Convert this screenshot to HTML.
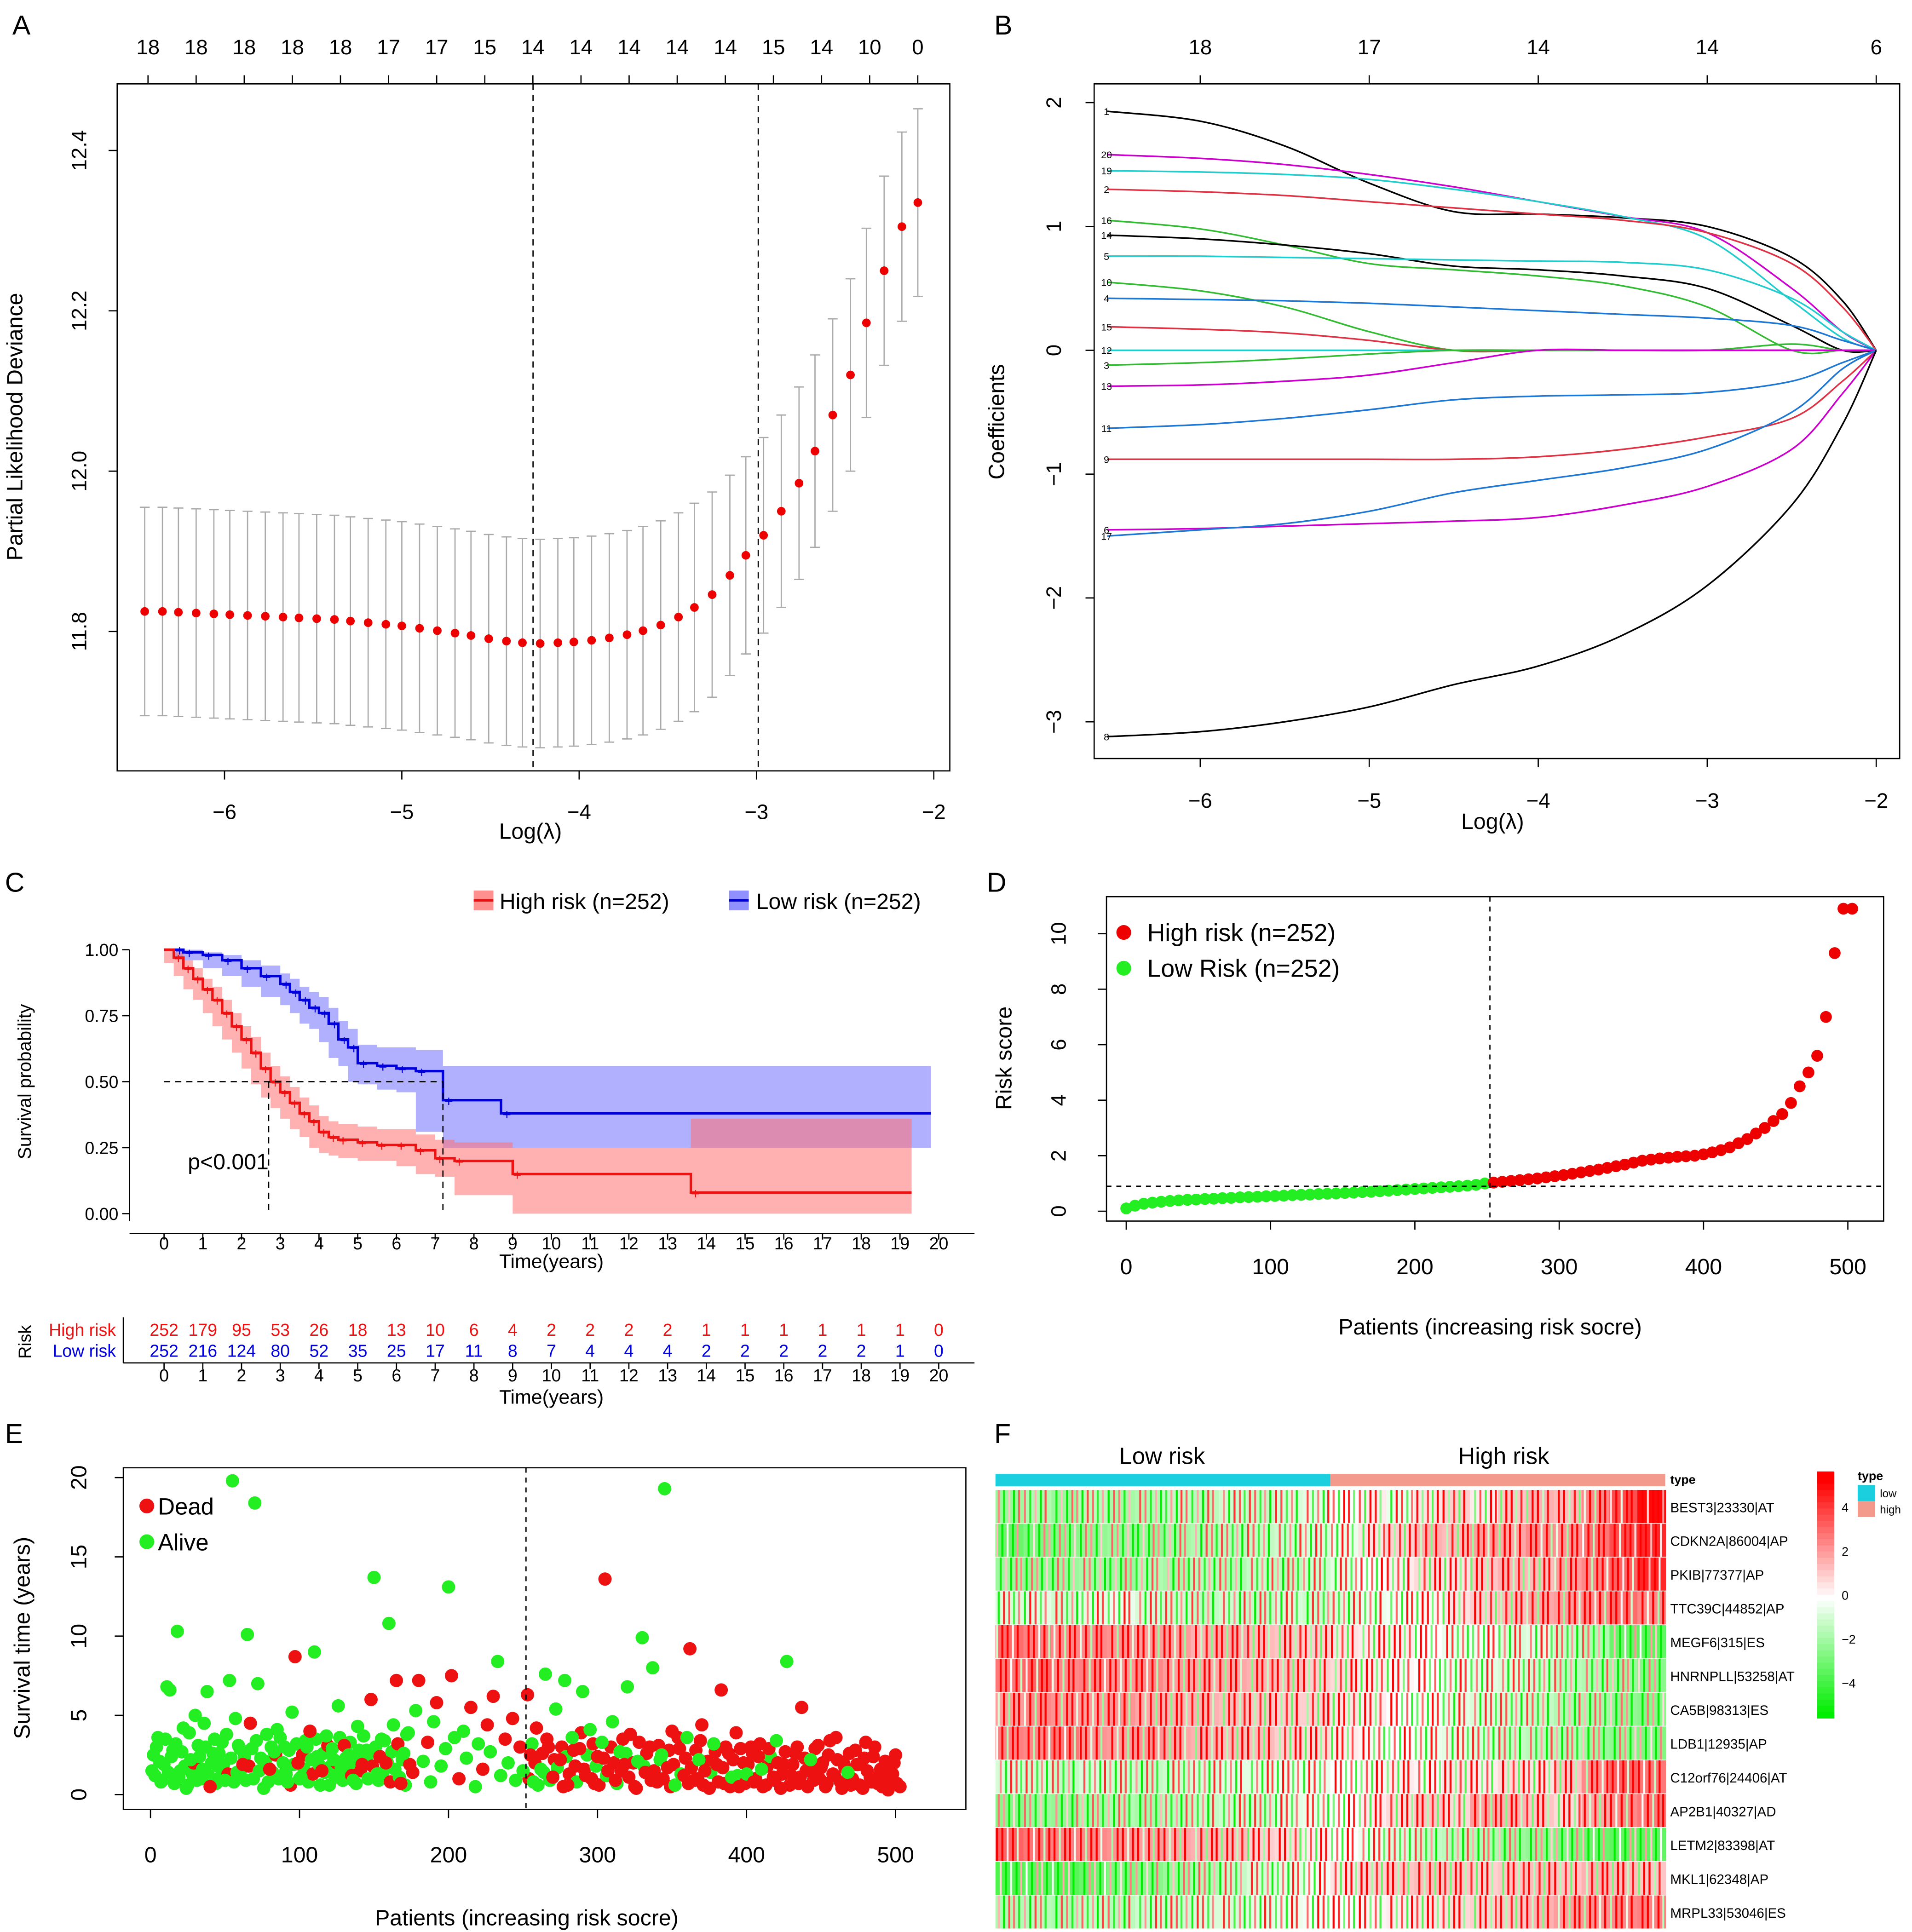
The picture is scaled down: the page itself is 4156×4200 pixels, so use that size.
<!DOCTYPE html>
<html><head><meta charset="utf-8"><style>
html,body{margin:0;padding:0;background:#fff}
svg{display:block;font-family:"Liberation Sans",Arial,sans-serif}
</style></head><body>
<svg id="fig" xmlns="http://www.w3.org/2000/svg" width="4156" height="4200" viewBox="0 0 1550 1566.4"></svg>
<script>
// ---------- Panel A data ----------
const aLambda=[-6.45,-6.35,-6.26,-6.16,-6.06,-5.97,-5.87,-5.77,-5.67,-5.58,-5.48,-5.38,-5.29,-5.19,-5.09,-5.00,-4.90,-4.80,-4.70,-4.61,-4.51,-4.41,-4.32,-4.22,-4.12,-4.03,-3.93,-3.83,-3.73,-3.64,-3.54,-3.44,-3.35,-3.25,-3.15,-3.06,-2.96,-2.86,-2.76,-2.67,-2.57,-2.47,-2.38,-2.28,-2.18,-2.09];
const aDev=[11.825,11.825,11.824,11.823,11.822,11.821,11.82,11.819,11.818,11.817,11.816,11.815,11.813,11.811,11.809,11.807,11.804,11.801,11.798,11.795,11.791,11.788,11.786,11.785,11.786,11.787,11.789,11.792,11.796,11.801,11.808,11.818,11.83,11.846,11.87,11.895,11.92,11.95,11.985,12.025,12.07,12.12,12.185,12.25,12.305,12.335];
const aSE=[0.13,0.13,0.13,0.13,0.13,0.13,0.13,0.13,0.13,0.13,0.13,0.13,0.13,0.13,0.13,0.13,0.13,0.13,0.13,0.13,0.13,0.13,0.13,0.13,0.13,0.13,0.13,0.13,0.13,0.13,0.13,0.13,0.13,0.128,0.125,0.123,0.122,0.12,0.12,0.12,0.12,0.12,0.118,0.118,0.118,0.117];
const aTopLabels=["18","18","18","18","18","17","17","15","14","14","14","14","14","15","14","10","0"];
const aXTicks=[-6,-5,-4,-3,-2];
const aYTicks=[11.8,12.0,12.2,12.4];
const aVLines=[-4.26,-2.99];
// ---------- Panel B data ----------
const bLambda=[-6.55,-6,-5.5,-5,-4.5,-4,-3.5,-3,-2.5,-2.2,-2];
const bLabels=["1","20","19","2","16","14","5","10","4","15","12","3","13","11","9","6","17","8"];
const bColors=["#000","#cc00cc","#22cccc","#dd3344","#33bb33","#000","#22cccc","#33bb33","#1f77d4","#dd3344","#22cccc","#33bb33","#cc00cc","#1f77d4","#dd3344","#cc00cc","#1f77d4","#000"];
const bC1=[1.93,1.85,1.65,1.35,1.12,1.1,1.07,1.0,0.75,0.4,0];
const bC20=[1.58,1.55,1.5,1.42,1.32,1.2,1.08,0.95,0.5,0.15,0];
const bC19=[1.45,1.44,1.42,1.38,1.3,1.2,1.08,0.9,0.4,0.1,0];
const bC2=[1.3,1.28,1.25,1.2,1.15,1.1,1.05,0.95,0.7,0.35,0];
const bC16=[1.05,0.98,0.85,0.7,0.65,0.6,0.52,0.35,0,0,0];
const bC14=[0.93,0.9,0.85,0.78,0.68,0.65,0.6,0.5,0.2,0,0];
const bC5=[0.76,0.76,0.75,0.74,0.73,0.72,0.71,0.65,0.42,0.15,0];
const bC10=[0.55,0.48,0.35,0.15,0,0,0,0,0,0,0];
const bC4=[0.42,0.41,0.4,0.38,0.35,0.32,0.29,0.26,0.2,0.08,0];
const bC15=[0.19,0.17,0.14,0.08,0,0,0,0,0,0,0];
const bC12=[0,0,0,0,0,0,0,0,0,0,0];
const bC3=[-0.12,-0.1,-0.07,-0.03,0,0,0,0,0.05,0,0];
const bC13=[-0.29,-0.28,-0.25,-0.2,-0.1,0,0,0,0,0,0];
const bC11=[-0.63,-0.6,-0.55,-0.48,-0.4,-0.37,-0.36,-0.34,-0.25,-0.1,0];
const bC9=[-0.88,-0.88,-0.88,-0.88,-0.88,-0.86,-0.8,-0.7,-0.55,-0.25,0];
const bC6=[-1.45,-1.44,-1.42,-1.4,-1.38,-1.35,-1.25,-1.1,-0.8,-0.35,0];
const bC17=[-1.5,-1.45,-1.4,-1.3,-1.15,-1.05,-0.95,-0.8,-0.5,-0.15,0];
const bC8=[-3.12,-3.08,-3.0,-2.88,-2.7,-2.55,-2.3,-1.9,-1.25,-0.6,0];
const bSeries=[bC1,bC20,bC19,bC2,bC16,bC14,bC5,bC10,bC4,bC15,bC12,bC3,bC13,bC11,bC9,bC6,bC17,bC8];
const bTopLabels=["18","17","14","14","6"];
const bXTicks=[-6,-5,-4,-3,-2];
const bYTicks=[2,1,0,-1,-2,-3];
// ---------- Panel C data ----------
const cHighT=[0,0.25,0.5,0.75,1,1.25,1.5,1.75,2,2.25,2.5,2.75,3,3.25,3.5,3.75,4,4.25,4.5,5,5.5,6,6.5,7,7.5,9,13.6,19.3];
const cHighS=[1,0.97,0.93,0.89,0.85,0.81,0.76,0.71,0.66,0.61,0.55,0.5,0.46,0.42,0.38,0.35,0.31,0.29,0.28,0.27,0.26,0.26,0.24,0.21,0.2,0.15,0.08,0.08];
const cHighU=[1,0.99,0.96,0.93,0.89,0.86,0.81,0.76,0.71,0.67,0.61,0.56,0.52,0.48,0.44,0.41,0.37,0.35,0.34,0.33,0.32,0.32,0.3,0.28,0.27,0.25,0.36,0.36];
const cHighL=[1,0.95,0.9,0.85,0.81,0.76,0.71,0.66,0.61,0.55,0.49,0.44,0.4,0.36,0.32,0.29,0.25,0.23,0.22,0.21,0.2,0.2,0.18,0.15,0.14,0.07,0.0,0.0];
const cLowT=[0,0.25,0.5,1,1.5,2,2.5,3,3.25,3.5,3.75,4,4.25,4.5,4.75,5,5.5,6,6.5,7.2,8.7,19.8];
const cLowS=[1,1,0.99,0.98,0.96,0.93,0.9,0.87,0.84,0.81,0.78,0.76,0.72,0.66,0.63,0.57,0.56,0.55,0.54,0.43,0.38,0.38];
const cLowU=[1,1,1,0.99,0.98,0.96,0.94,0.91,0.89,0.86,0.84,0.82,0.78,0.73,0.7,0.64,0.63,0.63,0.62,0.56,0.56,0.56];
const cLowL=[1,1,0.97,0.96,0.93,0.9,0.86,0.82,0.79,0.76,0.72,0.7,0.65,0.59,0.56,0.5,0.49,0.47,0.46,0.31,0.25,0.25];
const cHighRisk=[252,179,95,53,26,18,13,10,6,4,2,2,2,2,1,1,1,1,1,1,0];
const cLowRisk=[252,216,124,80,52,35,25,17,11,8,7,4,4,4,2,2,2,2,2,1,0];
const cYTicks=[0,0.25,0.5,0.75,1];
const cMedians=[2.7,7.2];
// ---------- Panel D data (sampled along sorted patients) ----------
const dRisk=[0.1,0.2,0.27,0.31,0.34,0.37,0.39,0.41,0.42,0.44,0.45,0.47,0.48,0.5,0.51,0.52,0.54,0.55,0.56,0.58,0.59,0.6,0.62,0.63,0.64,0.66,0.67,0.69,0.7,0.72,0.74,0.76,0.78,0.8,0.82,0.84,0.86,0.88,0.9,0.92,0.95,1.0,1.03,1.06,1.09,1.12,1.15,1.18,1.22,1.26,1.3,1.35,1.4,1.45,1.5,1.56,1.62,1.68,1.75,1.82,1.86,1.9,1.93,1.96,1.98,2.0,2.05,2.12,2.2,2.3,2.45,2.6,2.8,3.0,3.25,3.5,3.9,4.5,5.0,5.6,7.0,9.3,10.9,10.9];
const dYTicks=[0,2,4,6,8,10];
const dXTicks=[0,100,200,300,400,500];
const dCut=0.9;
const dTotal=503;
// ---------- Panel E data ----------
const ePatient=[2,3,5,7,9,11,13,15,18,20,22,25,27,30,32,34,36,38,40,42,45,48,50,53,55,57,58,60,62,65,67,70,72,74,76,78,80,83,85,88,90,92,95,97,99,101,104,107,110,112,115,118,120,123,126,128,130,133,136,139,142,145,148,150,152,155,158,160,163,165,168,170,173,176,178,180,183,186,188,190,192,195,198,200,202,204,207,210,212,215,218,220,223,226,228,230,233,235,238,240,243,245,248,250,253,255,257,259,262,265,267,270,272,275,278,280,283,285,288,290,292,295,298,300,303,305,307,310,312,315,318,320,322,325,327,330,332,335,337,340,343,345,347,350,352,355,358,360,362,365,368,370,372,375,378,380,383,385,388,390,393,395,398,400,403,405,408,410,413,415,418,420,423,425,427,430,433,435,437,440,443,445,448,450,453,455,458,460,463,465,468,470,473,475,478,480,483,485,488,490,493,495,498,500,503];
const eTime=[2.5,1.2,3.6,0.8,1.9,6.8,6.6,2.8,10.3,1.5,4.2,0.6,2.2,5.0,3.1,1.0,4.5,6.5,0.5,2.6,1.8,3.3,0.9,7.2,19.8,4.8,1.4,2.9,1.9,10.1,4.5,18.4,7.0,2.3,0.4,3.8,1.6,2.7,4.1,1.2,3.0,0.8,5.2,8.7,2.0,1.1,3.4,4.0,9.0,2.4,1.5,3.7,0.6,2.2,5.6,1.7,3.1,2.5,0.9,4.3,1.9,2.8,6.0,13.7,1.3,3.5,2.0,10.8,4.4,7.2,0.7,2.6,3.9,1.4,5.3,7.2,2.1,3.3,0.8,4.6,5.8,1.8,2.9,13.1,7.5,3.6,1.0,4.0,2.3,5.5,0.5,3.2,1.6,4.4,2.7,6.2,8.4,1.2,3.5,2.0,4.8,0.9,3.0,1.5,6.3,2.5,0.8,4.2,1.6,7.6,3.0,1.1,5.4,2.2,7.2,0.6,3.6,1.8,2.9,6.5,1.2,4.1,0.7,2.4,3.3,13.6,1.5,4.6,0.9,2.7,1.9,6.8,3.8,0.5,2.1,9.9,1.4,3.0,8.0,0.8,2.5,19.3,1.7,4.0,0.6,2.9,1.2,3.6,9.2,0.9,2.2,4.4,1.5,0.4,3.2,1.9,6.6,0.7,2.6,1.1,3.9,0.5,2.0,1.3,3.0,0.8,2.4,1.6,0.6,2.9,1.1,3.4,0.4,1.9,8.4,1.2,2.6,0.7,5.5,1.5,2.2,0.9,3.1,1.7,0.5,2.5,1.3,3.6,0.8,2.0,1.4,0.6,2.8,1.9,0.4,3.3,1.1,2.4,0.7,1.6,2.1,0.3,1.3,2.5,0.5];
const eDead=[0,0,0,0,0,0,0,0,0,0,0,0,0,0,0,0,0,0,1,0,0,0,0,0,0,0,0,0,1,0,1,0,0,0,0,0,1,0,0,0,0,0,0,1,1,0,0,1,0,0,1,0,0,0,0,0,1,0,0,0,1,0,1,0,0,0,1,0,0,1,1,0,0,1,0,1,0,1,0,0,1,0,0,0,1,0,1,0,0,1,0,0,1,1,0,1,0,0,1,0,1,0,1,0,1,1,0,1,0,0,1,1,0,1,0,1,0,1,1,0,1,0,1,1,0,1,1,0,1,0,1,0,1,1,0,0,1,1,0,1,0,0,1,1,0,1,1,0,1,1,0,1,1,1,0,1,1,1,1,0,1,1,1,0,1,1,1,0,1,1,1,0,1,1,0,1,1,1,1,1,0,1,1,1,1,1,1,1,1,1,0,1,1,1,1,1,1,1,1,1,1,1,1,1,1];
const ePatientB=[1,4,6,8,10,12,14,16,17,19,21,23,24,26,28,29,31,33,35,37,39,41,43,44,46,47,49,51,52,54,56,59,61,63,64,66,68,69,71,73,77,79,81,82,84,86,87,89,91,93,94,96,98,100,102,103,105,106,108,109,111,113,114,116,117,119,121,122,124,125,127,129,131,132,134,135,137,138,140,141,143,144,146,147,149,151,153,154,156,157,159,161,162,164,166,167,169,171,172,174,254,256,258,260,263,264,266,268,271,273,276,277,279,281,284,286,289,291,293,296,297,299,301,304,306,309,311,313,316,317,319,321,324,326,328,331,333,336,338,341,342,344,348,349,351,354,356,359,361,363,366,367,369,371,374,376,379,381,384,386,389,391,394,396,399,401,404,406,409,411,414,416,419,421,424,426,429,431,434,436,439,441,444,446,449,451,454,456,459,461,464,466,469,471,474,476,479,481,484,486,489,491,494,496,499,501];
const eTimeB=[1.5,3.0,2.1,0.9,3.5,1.4,2.4,0.7,3.2,1.1,2.7,1.8,0.4,3.9,1.3,2.0,0.9,2.4,1.6,3.0,1.2,2.0,3.5,0.7,2.6,1.1,1.9,3.8,1.3,2.3,0.8,3.1,1.6,2.4,0.9,1.8,2.9,1.0,3.4,1.5,2.1,0.8,3.0,1.4,2.5,1.0,3.6,2.0,1.3,2.8,0.6,1.9,3.2,1.0,2.5,1.6,3.0,0.8,2.2,1.3,3.5,1.9,0.6,2.6,1.4,3.1,1.8,2.9,1.1,2.0,3.6,0.9,2.3,1.6,3.3,1.2,2.1,0.7,2.8,1.5,3.7,2.2,1.0,2.6,1.8,3.0,0.9,2.4,1.4,3.4,2.0,0.8,2.7,1.6,3.2,1.1,2.2,0.6,3.8,1.9,1.0,3.2,2.0,0.6,2.6,1.4,3.5,0.9,2.2,1.7,3.0,0.5,2.4,1.3,2.8,0.8,3.9,1.6,2.5,1.0,3.2,1.8,0.6,2.3,1.2,3.0,2.0,0.7,1.5,3.5,2.6,1.1,2.0,0.4,3.3,1.8,2.6,0.9,1.5,3.1,2.2,1.0,2.8,0.5,1.9,3.6,1.3,2.3,0.7,1.7,2.8,1.0,3.4,0.6,2.1,1.4,2.7,0.8,1.7,3.0,0.5,2.2,1.2,2.9,0.7,1.9,2.6,1.0,3.2,0.5,1.8,2.4,0.9,2.0,1.3,2.7,0.6,1.9,3.0,1.1,2.3,0.5,1.6,2.9,1.0,2.0,0.7,3.4,1.2,2.2,0.4,1.7,2.6,1.0,1.9,0.6,2.3,1.5,0.8,3.0,1.2,0.5,1.8,1.0,2.0,0.7];
const eDeadB=[0,0,0,0,0,0,0,0,0,0,0,0,0,0,0,1,0,0,0,0,0,0,0,0,0,0,0,0,1,0,0,0,0,0,0,1,0,0,0,0,0,0,0,0,1,0,0,0,0,0,1,0,0,0,1,0,0,0,0,1,0,0,0,0,0,1,0,0,0,1,0,0,0,0,0,1,0,0,0,1,0,0,0,0,1,0,0,1,0,0,0,1,0,0,1,0,0,0,0,1,1,0,1,0,1,0,1,0,1,0,1,1,0,1,1,0,1,1,0,1,1,0,1,1,0,1,1,0,1,1,0,1,1,1,1,0,1,1,1,1,0,1,1,1,1,1,0,1,1,1,1,1,1,1,1,0,1,1,1,1,1,1,0,1,1,1,1,1,1,1,1,0,1,1,1,1,1,1,1,1,1,1,1,1,1,1,1,1,1,1,1,1,1,1,1,1,1,1,1,1,1,1,1,1,1,1];
const eYTicks=[0,5,10,15,20];
const eXTicks=[0,100,200,300,400,500];
// ---------- Panel F data ----------
const fGenes=["BEST3|23330|AT","CDKN2A|86004|AP","PKIB|77377|AP","TTC39C|44852|AP","MEGF6|315|ES","HNRNPLL|53258|AT","CA5B|98313|ES","LDB1|12935|AP","C12orf76|24406|AT","AP2B1|40327|AD","LETM2|83398|AT","MKL1|62348|AP","MRPL33|53046|ES"];
const fR0=[-1,-0.8,-1,-0.7,-0.9,-0.8,-0.6,-0.7,-0.5,-0.6,-0.4,-0.3,0,0.2,-0.2,0.3,0.5,0.2,0.6,0.8,0.7,1.2,1.8,2.5];
const fR1=[-1.5,-1.3,-1.2,-1.1,-1,-1.1,-0.9,-0.8,-0.7,-0.6,-0.5,-0.4,-0.2,0.3,0.5,0.8,0.7,1,0.9,1.2,1.1,1.4,1.8,2.2];
const fR2=[-1,-1.1,-1,-0.9,-1,-0.8,-0.9,-0.7,-0.8,-0.6,-0.7,-0.5,-0.3,0,0.2,0.4,0.3,0.6,0.8,0.7,1,1.2,1.6,2.2];
const fR3=[-0.4,-0.3,-0.5,-0.3,-0.2,-0.4,-0.5,-0.6,-0.5,-0.6,-0.4,-0.5,-0.4,-0.2,-0.1,0.1,0.3,0.5,0.7,0.9,1,1.2,1.5,1.2];
const fR4=[1.5,1.3,1.2,1.2,1.1,1,1,0.8,0.9,0.7,0.6,0.5,0.3,0.2,0.2,0,-0.2,-0.1,-0.4,-0.3,-0.6,-0.8,-1.5,-1.6];
const fR5=[1.4,1.6,1.2,1.3,1.1,1.2,1,0.9,0.9,0.8,0.7,0.5,0.4,0.2,0.1,0,-0.2,-0.3,-0.4,-0.5,-0.7,-0.8,-1,-1.2];
const fR6=[1,1.2,1.1,1,1.1,0.9,0.8,0.8,0.7,0.6,0.5,0.5,0.3,0.2,0,-0.1,-0.3,-0.4,-0.5,-0.6,-0.8,-0.9,-1.1,-1.2];
const fR7=[1.3,1.2,1.4,1.1,1,1.1,0.9,0.8,0.7,0.7,0.5,0.4,0.2,0.1,0,-0.2,-0.3,-0.4,-0.6,-0.7,-0.8,-1,-1.1,-1.3];
const fR8=[-0.4,-0.5,-0.6,-0.4,-0.5,-0.6,-0.5,-0.4,-0.3,-0.3,-0.2,-0.2,0,0.1,0.2,0.1,0.3,0.2,0.4,0.3,0.6,1.2,1.6,1.4];
const fR9=[-1.2,-1,-1.1,-0.9,-0.8,-0.9,-0.7,-0.6,-0.5,-0.5,-0.3,-0.2,0,0.2,0.4,0.6,0.4,1.0,0.8,0.6,0.4,0.9,1.2,1.4];
const fR10=[1.6,1.4,1.3,1.2,1.1,1,0.9,0.8,0.7,0.5,0.4,0.2,0,-0.2,-0.4,-0.6,-0.7,-0.8,-1,-1.1,-1.3,-1.5,-1.6,-1.6];
const fR11=[-1.8,-1.6,-1.7,-1.5,-1.3,-1.2,-1,-0.8,-0.6,-0.4,-0.3,-0.1,0.3,0.5,0.6,0.7,0.6,0.5,0.6,0.7,0.6,0.8,0.7,0.6];
const fR12=[-0.8,-0.7,-0.8,-0.6,-0.7,-0.5,-0.5,-0.4,-0.4,-0.3,-0.2,-0.1,0,0.1,0.2,0.3,0.4,0.5,0.6,0.8,1,1.1,1.2,1.3];
const fRows=[fR0,fR1,fR2,fR3,fR4,fR5,fR6,fR7,fR8,fR9,fR10,fR11,fR12];
const fScaleTicks=[4,2,0,-2,-4];

const NS="http://www.w3.org/2000/svg";
const svg=document.getElementById('fig');
function mk(tag,attrs,name,parent){
  const el=document.createElementNS(NS,tag);
  for(const k in attrs) el.setAttribute(k,attrs[k]);
  
  
  (parent||svg).appendChild(el);
  return el;
}
function txt(x,y,s,name,o){
  o=o||{};
  const a={x:x,y:y,'font-size':o.size||17,fill:o.fill||'#000','text-anchor':o.anchor||'middle'};
  if(o.rot) a.transform='rotate('+o.rot+' '+x+' '+y+')';
  if(o.weight) a['font-weight']=o.weight;
  const t=mk('text',a,name);
  t.textContent=s;
  return t;
}
function line(x1,y1,x2,y2,name,o){
  o=o||{};
  const a={x1:x1,y1:y1,x2:x2,y2:y2,stroke:o.stroke||'#000','stroke-width':o.w||1};
  if(o.dash) a['stroke-dasharray']=o.dash;
  return mk('line',a,name);
}
function rect(x,y,w,h,name,o){
  o=o||{};
  return mk('rect',{x:x,y:y,width:w,height:h,fill:o.fill||'none',stroke:o.stroke||'none','stroke-width':o.w||1,'fill-opacity':o.op==null?1:o.op},name);
}

// ===== Panel A =====
txt(10,28,"A","panel-a-label",{size:22,anchor:'start'});
const ax=v=>182+(v+6)*143.75, ay=v=>382-(v-12)*650;
rect(95,68,675,557,"panel-a-plot-box",{stroke:'#000'});
aXTicks.forEach(v=>{line(ax(v),625,ax(v),632,"a-x-tick");txt(ax(v),664,"\u2212"+Math.abs(v),"a-x-tick-label");});
aYTicks.forEach(v=>{line(88,ay(v),95,ay(v),"a-y-tick");txt(70,ay(v),v.toFixed(1),"a-y-tick-label",{rot:-90});});
aTopLabels.forEach((s,i)=>{const x=120+i*39;line(x,61,x,68,"a-top-tick");txt(x,44,s,"a-top-label");});
txt(430,680,"Log(\u03bb)","a-x-title",{size:18});
txt(18,346,"Partial Likelihood Deviance","a-y-title",{size:18,rot:-90});
aLambda.forEach((l,i)=>{
  const x=ax(l),u=ay(aDev[i]+aSE[i]),d=ay(aDev[i]-aSE[i]);
  line(x,u,x,d,"a-error-bar",{stroke:'#aaa'});
  line(x-4,u,x+4,u,"a-error-cap",{stroke:'#aaa'});
  line(x-4,d,x+4,d,"a-error-cap",{stroke:'#aaa'});
});
aLambda.forEach((l,i)=>mk('circle',{cx:ax(l),cy:ay(aDev[i]),r:3.5,fill:'#ee0000'},"a-deviance-point"));
aVLines.forEach(v=>line(ax(v),68,ax(v),625,"a-lambda-line",{dash:'5,4'}));

// ===== Panel B =====
txt(806,28,"B","panel-b-label",{size:22,anchor:'start'});
const bx=v=>973+(v+6)*137, by=v=>284-v*100.4;
rect(887,68,653,547,"panel-b-plot-box",{stroke:'#000'});
bXTicks.forEach(v=>{line(bx(v),615,bx(v),622,"b-x-tick");txt(bx(v),655,"\u2212"+Math.abs(v),"b-x-tick-label");});
bYTicks.forEach(v=>{line(880,by(v),887,by(v),"b-y-tick");txt(860,by(v),(v<0?"\u2212":"")+Math.abs(v),"b-y-tick-label",{rot:-90});});
bTopLabels.forEach((s,i)=>{const x=bx(-6+i);line(x,61,x,68,"b-top-tick");txt(x,44,s,"b-top-label");});
txt(1210,672,"Log(\u03bb)","b-x-title",{size:18});
txt(814,342,"Coefficients","b-y-title",{size:18,rot:-90});
bSeries.forEach((s,k)=>{
  const pts=s.map((v,i)=>[bx(bLambda[i]),by(v)]);
  let d="M"+pts[0][0]+","+pts[0][1];
  for(let i=0;i<pts.length-1;i++){
    const p0=pts[Math.max(0,i-1)],p1=pts[i],p2=pts[i+1],p3=pts[Math.min(pts.length-1,i+2)];
    d+=" C"+(p1[0]+(p2[0]-p0[0])/6)+","+(p1[1]+(p2[1]-p0[1])/6)+" "+(p2[0]-(p3[0]-p1[0])/6)+","+(p2[1]-(p3[1]-p1[1])/6)+" "+p2[0]+","+p2[1];
  }
  mk('path',{d:d,fill:'none',stroke:bColors[k],'stroke-width':1.3},"b-coef-path-"+bLabels[k]);
  txt(897,by(s[0])+3,bLabels[k],"b-coef-label",{size:8});
});

// ===== Panel C =====
txt(4,723,"C","panel-c-label",{size:22,anchor:'start'});
const cx=t=>133+t*31.4, cy=v=>984-v*214;
function stepPath(T,S){let d="M"+cx(T[0])+","+cy(S[0]);for(let i=1;i<T.length;i++){d+=" H"+cx(T[i])+" V"+cy(S[i]);}return d;}
function bandPath(T,U,L){let d="M"+cx(T[0])+","+cy(U[0]);for(let i=1;i<T.length;i++){d+=" H"+cx(T[i])+" V"+cy(U[i]);}
  for(let i=T.length-1;i>=1;i--){d+=" V"+cy(L[i])+" H"+cx(T[i-1]);}d+=" V"+cy(L[0])+"Z";return d;}
mk('path',{d:bandPath(cLowT,cLowU,cLowL),fill:'#7070ff','fill-opacity':0.55},"c-low-risk-ci");
mk('path',{d:bandPath(cHighT,cHighU,cHighL),fill:'#ff7070','fill-opacity':0.55},"c-high-risk-ci");
mk('path',{d:stepPath(cLowT,cLowS),fill:'none',stroke:'#0000dd','stroke-width':2},"c-low-risk-curve");
mk('path',{d:stepPath(cHighT,cHighS),fill:'none',stroke:'#ee1111','stroke-width':2},"c-high-risk-curve");
for(let i=1;i<cLowT.length-1;i++) txt(cx(cLowT[i]+0.15),cy(cLowS[i])+5,"+","c-low-censor",{size:12,fill:'#0000dd'});
for(let i=1;i<cHighT.length-1;i++) txt(cx(cHighT[i]+0.12),cy(cHighS[i])+5,"+","c-high-censor",{size:12,fill:'#ee1111'});
line(133,cy(0.5),cx(cMedians[1]),cy(0.5),"c-median-line",{dash:'5,4'});
cMedians.forEach(m=>line(cx(m),cy(0.5),cx(m),984,"c-median-drop",{dash:'5,4'}));
line(105,770,105,990,"c-y-axis");
cYTicks.forEach(v=>{line(99,cy(v),105,cy(v),"c-y-tick");txt(96,cy(v)+5,v.toFixed(2),"c-y-tick-label",{size:14,anchor:'end'});});
line(105,1000,790,1000,"c-x-axis");
for(let t=0;t<=20;t++){line(cx(t),1000,cx(t),1005,"c-x-tick");txt(cx(t),1013,String(t),"c-x-tick-label",{size:14});}
txt(447,1028,"Time(years)","c-x-title",{size:16});
txt(25,877,"Survival probability","c-y-title",{size:15,rot:-90});
txt(185,948,"p<0.001","c-pvalue",{size:18});
rect(384,722,16,16,"c-legend-high-key",{fill:'#ff9090'});line(384,730,400,730,"c-legend-high-line",{stroke:'#ee1111',w:2});
txt(405,737,"High risk (n=252)","c-legend-high-label",{size:18,anchor:'start'});
rect(591,722,16,16,"c-legend-low-key",{fill:'#9090ff'});line(591,730,607,730,"c-legend-low-line",{stroke:'#0000dd',w:2});
txt(613,737,"Low risk (n=252)","c-legend-low-label",{size:18,anchor:'start'});
txt(94,1083,"High risk","c-table-high-label",{size:14,fill:'#ee1111',anchor:'end'});
txt(94,1100,"Low risk","c-table-low-label",{size:14,fill:'#0000dd',anchor:'end'});
txt(25,1088,"Risk","c-table-title",{size:14,rot:-90});
line(100,1068,100,1105,"c-table-y-axis");
cHighRisk.forEach((n,t)=>txt(cx(t),1083,String(n),"c-table-high-count",{size:14,fill:'#ee1111'}));
cLowRisk.forEach((n,t)=>txt(cx(t),1100,String(n),"c-table-low-count",{size:14,fill:'#0000dd'}));
line(100,1105,790,1105,"c-table-x-axis");
for(let t=0;t<=20;t++){line(cx(t),1105,cx(t),1110,"c-table-x-tick");txt(cx(t),1120,String(t),"c-table-x-tick-label",{size:14});}
txt(447,1138,"Time(years)","c-table-x-title",{size:16});

// ===== Panel D =====
txt(800,723,"D","panel-d-label",{size:22,anchor:'start'});
const dx=p=>913+p*1.17, dy=v=>982-v*22.5;
rect(897,727,630,263,"panel-d-plot-box",{stroke:'#000'});
dYTicks.forEach(v=>{line(890,dy(v),897,dy(v),"d-y-tick");txt(864,dy(v),String(v),"d-y-tick-label",{rot:-90});});
dXTicks.forEach(v=>{line(dx(v),990,dx(v),997,"d-x-tick");txt(dx(v),1033,String(v),"d-x-tick-label",{size:18});});
txt(1208,1082,"Patients (increasing risk socre)","d-x-title",{size:18});
txt(820,858,"Risk score","d-y-title",{size:18,rot:-90});
dRisk.forEach((v,i)=>{const p=i*dTotal/(dRisk.length-1);mk('circle',{cx:dx(p),cy:dy(v),r:4.8,fill:p<252?'#22ee22':'#ee0000'},"d-risk-point");});
line(897,dy(dCut),1527,dy(dCut),"d-cutoff-line",{dash:'4,4'});
line(dx(252),727,dx(252),990,"d-split-line",{dash:'4,4'});
mk('circle',{cx:911,cy:756,r:6,fill:'#ee0000'},"d-legend-high-dot");
txt(930,763,"High risk (n=252)","d-legend-high-label",{size:20,anchor:'start'});
mk('circle',{cx:911,cy:785,r:6,fill:'#22ee22'},"d-legend-low-dot");
txt(930,792,"Low Risk (n=252)","d-legend-low-label",{size:20,anchor:'start'});

// ===== Panel E =====
txt(4,1170,"E","panel-e-label",{size:22,anchor:'start'});
const ex=p=>122+p*1.208, ey=v=>1455-v*12.85;
rect(100,1190,683,277,"panel-e-plot-box",{stroke:'#000'});
eYTicks.forEach(v=>{line(93,ey(v),100,ey(v),"e-y-tick");txt(70,ey(v),String(v),"e-y-tick-label",{size:18,rot:-90});});
eXTicks.forEach(v=>{line(ex(v),1467,ex(v),1474,"e-x-tick");txt(ex(v),1510,String(v),"e-x-tick-label",{size:18});});
txt(427,1561,"Patients (increasing risk socre)","e-x-title",{size:18});
txt(24,1328,"Survival time (years)","e-y-title",{size:18,rot:-90});
ePatientB.forEach((p,i)=>mk('circle',{cx:ex(p),cy:ey(eTimeB[i]),r:5.4,fill:eDeadB[i]?'#ee1111':'#22ee22'},"e-patient-point"));
ePatient.forEach((p,i)=>mk('circle',{cx:ex(p),cy:ey(eTime[i]),r:5.4,fill:eDead[i]?'#ee1111':'#22ee22'},"e-patient-point"));
line(ex(252),1190,ex(252),1467,"e-split-line",{dash:'4,4'});
mk('circle',{cx:119,cy:1221,r:6,fill:'#ee1111'},"e-legend-dead-dot");
txt(128,1228,"Dead","e-legend-dead-label",{size:19,anchor:'start'});
mk('circle',{cx:119,cy:1250,r:6,fill:'#22ee22'},"e-legend-alive-dot");
txt(128,1257,"Alive","e-legend-alive-label",{size:19,anchor:'start'});

// ===== Panel F =====
txt(806,1170,"F","panel-f-label",{size:22,anchor:'start'});
const fx0=807,fx1=1350,fy0=1208,fh=27.4;
function heat(v){const t=Math.min(1,Math.abs(v)/2.6);
  if(v>=0) return 'rgb(255,'+Math.round(255*(1-t))+','+Math.round(255*(1-t))+')';
  return 'rgb('+Math.round(255*(1-t))+','+Math.round(255-17*t)+','+Math.round(255*(1-t))+')';}
rect(fx0,1195,(fx1-fx0)/2,10,"f-type-bar-low",{fill:'#1ccfdf'});
rect((fx0+fx1)/2,1195,(fx1-fx0)/2,10,"f-type-bar-high",{fill:'#f49a8c'});
txt(942,1187,"Low risk","f-low-risk-title",{size:19});
txt(1219,1187,"High risk","f-high-risk-title",{size:19});
txt(1354,1203,"type","f-type-label",{size:10,anchor:'start',weight:'bold'});
const stripeOff=[0.08,0.27,0.46,0.63,0.81];
const stripeDelta=[2.2,-1.4,1.6,-2.0,2.6];
fRows.forEach((row,r)=>{
  const w=(fx1-fx0)/row.length;
  row.forEach((v,c)=>{
    rect(fx0+c*w,fy0+r*fh,w+0.5,fh-0.6,"f-heat-cell",{fill:heat(v)});
    stripeOff.forEach((o,k)=>{
      const off=(o+0.13*((r+c)%3))%0.92;
      rect(fx0+c*w+w*off,fy0+r*fh,w*0.07,fh-0.6,"f-heat-stripe",{fill:heat(v+stripeDelta[(k+r+c)%5])});
    });
  });
  txt(1354,fy0+r*fh+18,fGenes[r],"f-gene-label",{size:11,anchor:'start'});
});
const sc0=1193;
for(let i=0;i<40;i++){const v=4.6-i*(9.2/40);rect(1473,sc0+i*5,14,5.3,"f-scale-segment",{fill:heat(v*0.6)});}
fScaleTicks.forEach(v=>txt(1493,1293-v*17.8+4,(v<0?"\u2212":"")+Math.abs(v),"f-scale-label",{size:10,anchor:'start'}));
txt(1506,1200,"type","f-legend-title",{size:10,anchor:'start',weight:'bold'});
rect(1506,1204,14,13,"f-legend-low-key",{fill:'#1ccfdf'});
txt(1524,1214,"low","f-legend-low-label",{size:9,anchor:'start'});
rect(1506,1217,14,13,"f-legend-high-key",{fill:'#f49a8c'});
txt(1524,1227,"high","f-legend-high-label",{size:9,anchor:'start'});
</script>
</body></html>
